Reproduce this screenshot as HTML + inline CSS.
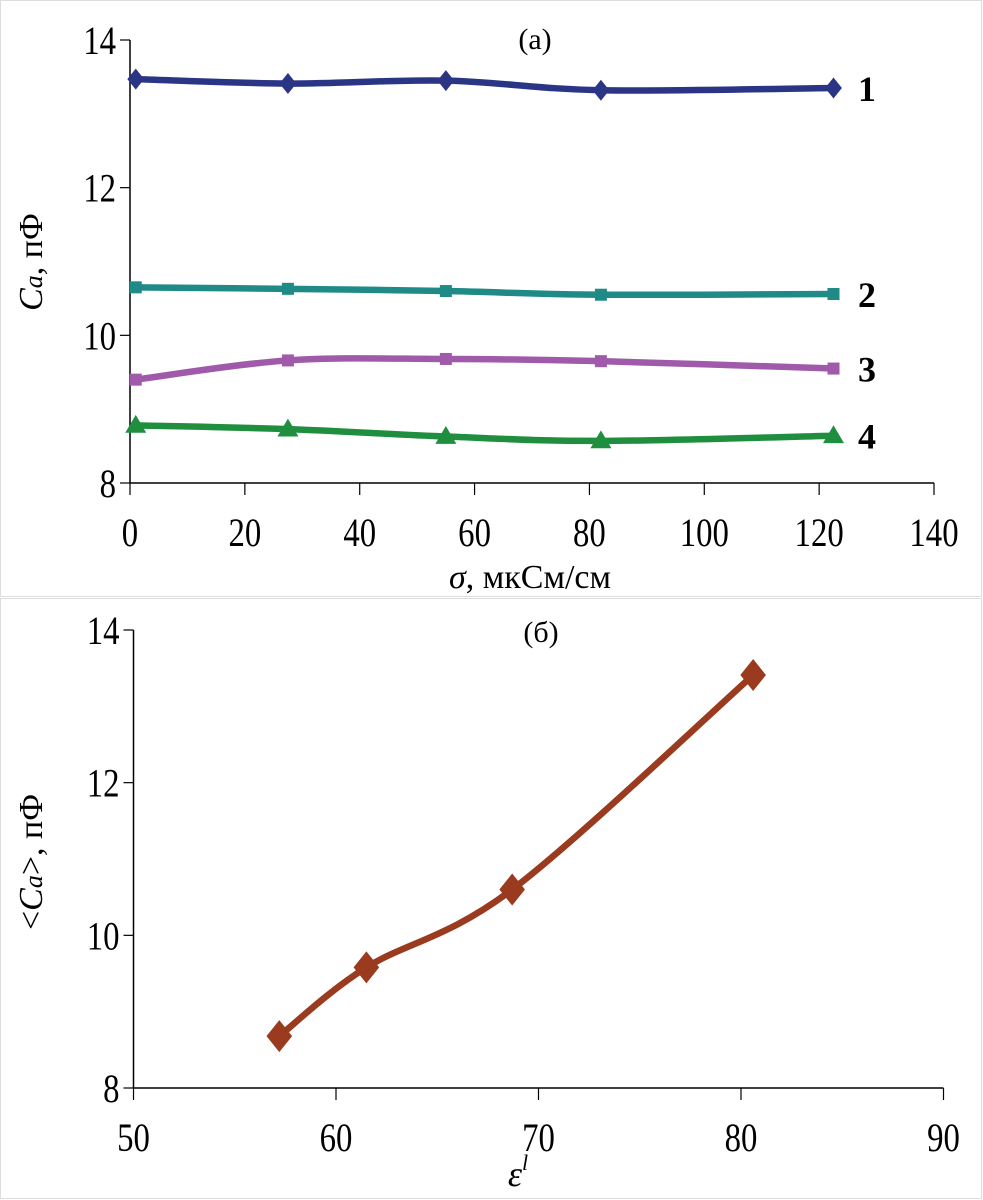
<!DOCTYPE html>
<html><head><meta charset="utf-8"><style>
html,body{margin:0;padding:0;background:#fff}
svg{display:block}
text{font-family:"Liberation Serif",serif;fill:#000}
</style></head><body>
<svg id="s" width="983" height="1200" xmlns="http://www.w3.org/2000/svg">
<rect x="0.5" y="0.5" width="981" height="596" fill="#fff" stroke="#ddd"/>
<rect x="0.5" y="598.5" width="981" height="600" fill="#fff" stroke="#ddd"/>
<g id="ga"></g>
<g id="gb"></g>
</svg>
<script>
const xA=[1,27.5,55,82,122.5];
const s1=[13.47,13.41,13.45,13.32,13.35];
const s2=[10.65,10.63,10.6,10.55,10.56];
const s3=[9.4,9.66,9.68,9.65,9.55];
const s4=[8.78,8.73,8.63,8.57,8.64];
const xTicksA=[0,20,40,60,80,100,120,140];
const yTicks=[8,10,12,14];
const xB=[57.2,61.5,68.7,80.6];
const yB=[8.68,9.58,10.6,13.41];
const xTicksB=[50,60,70,80,90];
const NS="http://www.w3.org/2000/svg";
function el(p,t,a){const e=document.createElementNS(NS,t);for(const k in a)e.setAttribute(k,a[k]);p.appendChild(e);return e;}
function smooth(pts){let d="M"+pts[0][0]+","+pts[0][1];for(let i=0;i<pts.length-1;i++){const p0=pts[i-1]||pts[i],p1=pts[i],p2=pts[i+1],p3=pts[i+2]||p2;const t=6;d+=" C"+(p1[0]+(p2[0]-p0[0])/t)+","+(p1[1]+(p2[1]-p0[1])/t)+" "+(p2[0]-(p3[0]-p1[0])/t)+","+(p2[1]-(p3[1]-p1[1])/t)+" "+p2[0]+","+p2[1];}return d;}
function lbl(g,x,y,anchor,txt,name){
 const t=el(g,'text',{x:0,y:0,'font-size':40,'text-anchor':anchor,transform:`translate(${x},${y}) scale(0.82,1)`});
 t.textContent=txt;return t;}
function axes(g,X,Y,xt,yt,x0,x1,y0,y1){
 const ax=el(g,'line',{x1:X(x0),y1:Y(y0),x2:X(x1),y2:Y(y0),stroke:'#000','stroke-width':1.5});
 
 const ay=el(g,'line',{x1:X(x0),y1:Y(y0),x2:X(x0),y2:Y(y1),stroke:'#000','stroke-width':1.5});
 
 xt.forEach(v=>{el(g,'line',{x1:X(v),x2:X(v),y1:Y(y0),y2:Y(y0)+12,stroke:'#000','stroke-width':1.2});
  lbl(g,X(v),Y(y0)+63,'middle',v,'x-tick-label');});
 yt.forEach(v=>{el(g,'line',{x1:X(x0)-10,x2:X(x0),y1:Y(v),y2:Y(v),stroke:'#000','stroke-width':1.2});
  lbl(g,X(x0)-14,Y(v)+14,'end',v,'y-tick-label');});
}
function marker(g,type,x,y,c,sz){
 let m;
 if(type==='d')m=el(g,'polygon',{points:`${x},${y-sz} ${x+sz*0.8},${y} ${x},${y+sz} ${x-sz*0.8},${y}`,fill:c});
 else if(type==='s')m=el(g,'rect',{x:x-sz*0.8,y:y-sz*0.8,width:sz*1.6,height:sz*1.6,fill:c});
 else m=el(g,'polygon',{points:`${x},${y-sz} ${x+sz},${y+sz*0.7} ${x-sz},${y+sz*0.7}`,fill:c});
 return m;
}
// chart A
const ga=document.getElementById('ga');
const XA=v=>130+(v/140)*(934-130), YA=v=>483-(v-8)/6*(483-40);
axes(ga,XA,YA,xTicksA,yTicks,0,140,8,14);
const series=[[s1,'#2b3585','d','1'],[s2,'#1f8a86','s','2'],[s3,'#a05aaa','s','3'],[s4,'#1f8f3f','t','4']];
series.forEach((s,i)=>{
 const pts=xA.map((x,j)=>[XA(x),YA(s[0][j])]);
 const p=el(ga,'path',{d:smooth(pts),fill:'none',stroke:s[1],'stroke-width':6.5});
 
 pts.forEach(q=>{const m=marker(ga,s[2],q[0],q[1],s[1],s[2]==='s'?7.5:10.5);
  });
 const lb=el(ga,'text',{x:858,y:YA(s[0][4])+13,'font-size':36,'font-weight':'bold'});lb.textContent=s[3];
 
});
let t=el(ga,'text',{x:535,y:49,'font-size':30,'text-anchor':'middle'});t.textContent='(a)';

t=el(ga,'text',{x:530,y:588,'font-size':34,'text-anchor':'middle'});t.innerHTML='<tspan font-style="italic">σ</tspan>, мкСм/см';

t=el(ga,'text',{x:0,y:0,'font-size':34,'text-anchor':'middle',transform:'translate(42,262) rotate(-90)'});t.innerHTML='<tspan font-style="italic">C<tspan font-size="26">a</tspan></tspan>, пФ';

// chart B
const gb=document.getElementById('gb');
const XB=v=>133.5+(v-50)/40*(943.5-133.5), YB=v=>1088-(v-8)/6*(1088-630);
axes(gb,XB,YB,xTicksB,yTicks,50,90,8,14);
const ptsB=xB.map((x,j)=>[XB(x),YB(yB[j])]);
const pb=el(gb,'path',{d:smooth(ptsB),fill:'none',stroke:'#9a3a1e','stroke-width':6.5});

ptsB.forEach(q=>{const m=marker(gb,'d',q[0],q[1],'#9a3a1e',16);
 });
t=el(gb,'text',{x:541,y:642,'font-size':30,'text-anchor':'middle'});t.textContent='(б)';

t=el(gb,'text',{x:518,y:1186,'font-size':36,'font-style':'italic','text-anchor':'middle'});t.innerHTML='ε<tspan dy="-16" font-size="22">l</tspan>';

t=el(gb,'text',{x:0,y:0,'font-size':34,'text-anchor':'middle',transform:'translate(42,862) rotate(-90)'});t.innerHTML='&lt;<tspan font-style="italic">C<tspan font-size="26">a</tspan></tspan>&gt;, пФ';

</script>
</body></html>
